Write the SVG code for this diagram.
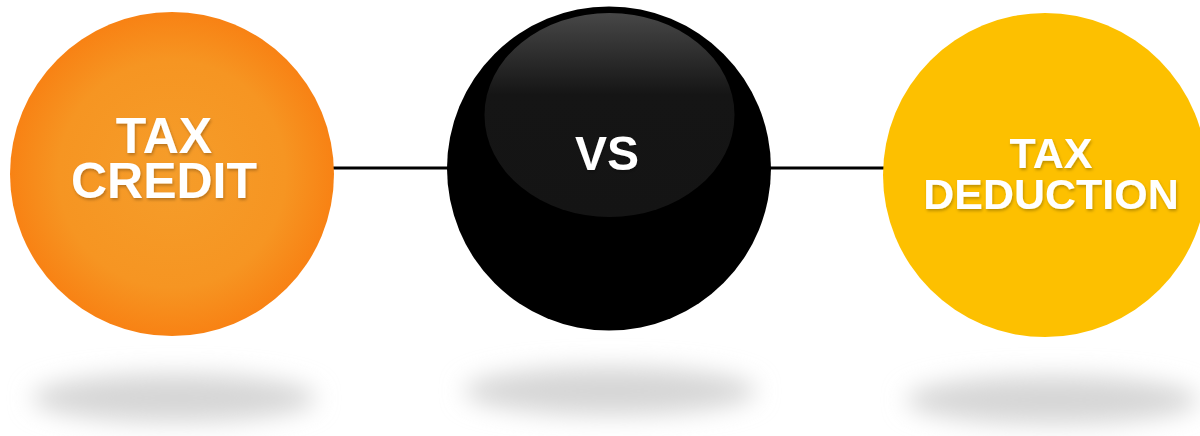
<svg xmlns="http://www.w3.org/2000/svg" width="1200" height="436" viewBox="0 0 1200 436">
<defs>
<style>
.lbl{font-family:"Liberation Sans",Arial,sans-serif;font-weight:bold;fill:#ffffff;text-anchor:middle;filter:url(#ts)}
.conn{stroke:#000;stroke-width:3;fill:none}
.shadow{fill:#d6d6d6;filter:url(#blur)}
</style>
<radialGradient id="gOrange" cx="0.5" cy="0.5" r="0.5">
<stop offset="0" stop-color="#F59D2A"/>
<stop offset="0.7" stop-color="#F69522"/>
<stop offset="1" stop-color="#F88214"/>
</radialGradient>
<linearGradient id="gHi" x1="0" y1="0" x2="0" y2="1">
<stop offset="0" stop-color="#474747"/>
<stop offset="0.4" stop-color="#151515"/>
<stop offset="1" stop-color="#141414"/>
</linearGradient>
<filter id="blur" x="-30%" y="-100%" width="160%" height="300%">
<feGaussianBlur stdDeviation="12"/>
</filter>
<filter id="ts" x="-20%" y="-30%" width="140%" height="160%">
<feDropShadow dx="1" dy="2" stdDeviation="1.5" flood-color="#000" flood-opacity="0.25"/>
</filter>
</defs>
<g id="shadows">
<ellipse class="shadow" cx="174" cy="398" rx="142" ry="24"/>
<ellipse class="shadow" cx="610" cy="391" rx="146" ry="24"/>
<ellipse class="shadow" cx="1052" cy="400" rx="146" ry="24"/>
</g>
<g id="connectors">
<line class="conn" x1="330" y1="168" x2="452" y2="168"/>
<line class="conn" x1="768" y1="168" x2="890" y2="168"/>
</g>
<g id="node-credit">
<circle cx="172" cy="174" r="162" fill="url(#gOrange)"/>
<text class="lbl" font-size="50"><tspan x="164" y="153">TAX</tspan><tspan x="164" y="198">CREDIT</tspan></text>
</g>
<g id="node-vs">
<circle cx="609" cy="168.5" r="162" fill="#000"/>
<ellipse cx="609.5" cy="115" rx="125" ry="102" fill="url(#gHi)"/>
<text class="lbl" x="607" y="170" font-size="48">VS</text>
</g>
<g id="node-deduction">
<circle cx="1045" cy="175" r="162" fill="#FDC000"/>
<text class="lbl" font-size="43"><tspan x="1051" y="168">TAX</tspan><tspan x="1051" y="209">DEDUCTION</tspan></text>
</g>
</svg>
